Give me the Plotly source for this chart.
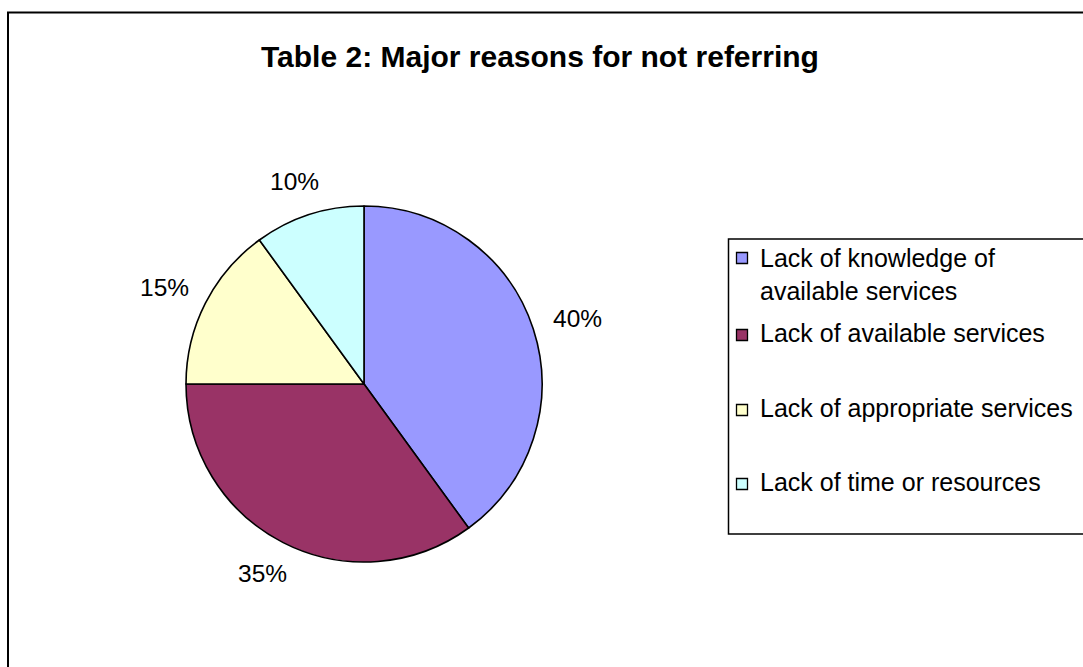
import math
import plotly.graph_objects as go

# ---- data ----
categories = [
    "Lack of knowledge of available services",
    "Lack of available services",
    "Lack of appropriate services",
    "Lack of time or resources",
]
legend_labels = [
    "Lack of knowledge of<br>available services",
    "Lack of available services",
    "Lack of appropriate services",
    "Lack of time or resources",
]
values = [40, 35, 15, 10]
colors = ["#9999FF", "#993366", "#FFFFCC", "#CCFFFF"]
title_text = "Table 2: Major reasons for not referring"

# ---- layout constants (pixels) ----
W, H = 1083, 667
CX, CY, R = 364, 384, 178
GAP, HALF_W, HALF_H = 22, 24, 13
FONT = "Arial, Liberation Sans, sans-serif"


def px(x):
    return x / W


def py(y):
    return 1 - y / H


fig = go.Figure()
fig.add_trace(go.Pie(
    labels=categories,
    values=values,
    sort=False,
    direction="clockwise",
    rotation=0,
    textinfo="none",
    hoverinfo="label+percent",
    marker=dict(colors=colors, line=dict(color="#000000", width=1.6)),
    domain=dict(x=[px(CX - R), px(CX + R)], y=[py(CY + R), py(CY - R)]),
    showlegend=False,
))

annotations = []
shapes = []

# percentage labels around the pie (outside end)
total = sum(values)
cum = 0
for v in values:
    mid = (cum + v / 2) / total * 2 * math.pi
    cum += v
    lx = CX + (R + GAP + HALF_W) * math.sin(mid)
    ly = CY - (R + GAP + HALF_H) * math.cos(mid)
    annotations.append(dict(
        x=px(lx), y=py(ly), xref="paper", yref="paper",
        text=f"{round(v / total * 100)}%", showarrow=False,
        xanchor="center", yanchor="middle",
        font=dict(family=FONT, size=24.5, color="#000000"),
    ))

# title
annotations.append(dict(
    x=px(540), y=py(57), xref="paper", yref="paper",
    text=f"<b>{title_text}</b>", showarrow=False,
    xanchor="center", yanchor="middle",
    font=dict(family=FONT, size=30, color="#000000"),
))

# outer chart border
shapes.append(dict(type="rect", xref="paper", yref="paper",
                   x0=px(8), x1=px(W + 20), y0=py(H + 20), y1=py(12.5),
                   line=dict(color="#000000", width=2), fillcolor="rgba(0,0,0,0)"))

# legend box
shapes.append(dict(type="rect", xref="paper", yref="paper",
                   x0=px(728.5), x1=px(W + 20), y0=py(534), y1=py(239),
                   line=dict(color="#000000", width=1.5), fillcolor="rgba(0,0,0,0)"))

# legend entries
legend_text_y = [274, 333, 408, 482]
legend_marker_y = [258, 335, 410, 484]
for lab, col, ty, my in zip(legend_labels, colors, legend_text_y, legend_marker_y):
    shapes.append(dict(type="rect", xref="paper", yref="paper",
                       x0=px(736.5), x1=px(747.5), y0=py(my + 5.5), y1=py(my - 5.5),
                       line=dict(color="#000000", width=1.3), fillcolor=col))
    annotations.append(dict(
        x=px(758), y=py(ty), xref="paper", yref="paper",
        text=lab, showarrow=False, align="left",
        xanchor="left", yanchor="middle",
        font=dict(family=FONT, size=25, color="#000000"),
    ))

fig.update_layout(
    width=W, height=H,
    margin=dict(l=0, r=0, t=0, b=0),
    paper_bgcolor="#FFFFFF",
    plot_bgcolor="#FFFFFF",
    annotations=annotations,
    shapes=shapes,
    showlegend=False,
)

fig.write_html("out.html")
